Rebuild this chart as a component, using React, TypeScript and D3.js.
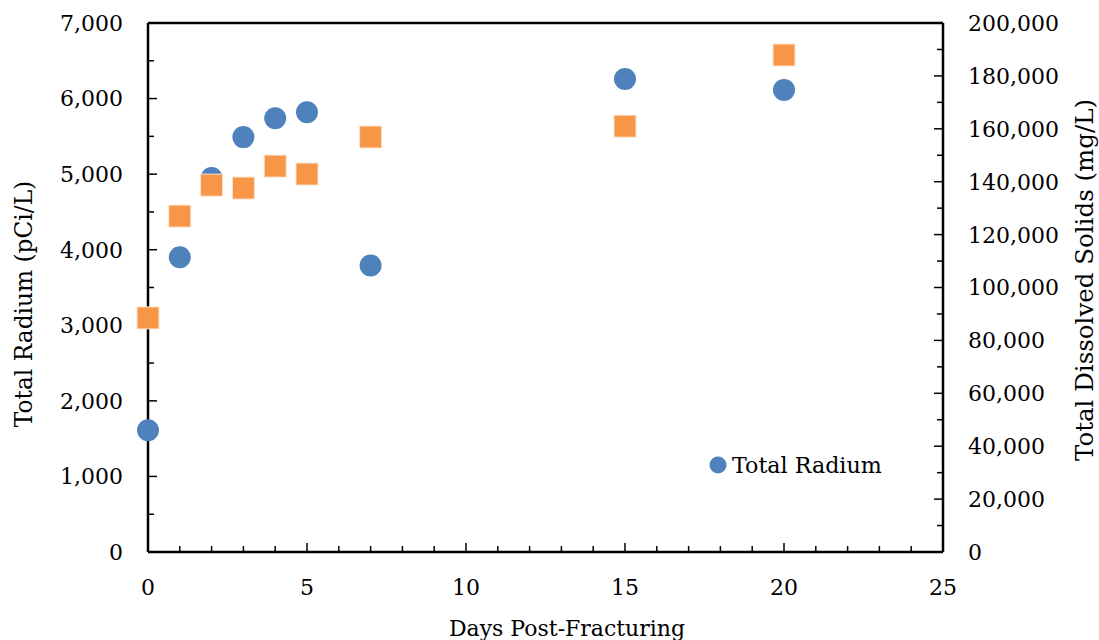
import React from "react";
import * as d3 from "d3";

const days = [0, 1, 2, 3, 4, 5, 7, 15, 20];
const radium = [1610, 3900, 4950, 5490, 5740, 5820, 3790, 6260, 6115];
const tds = [88500, 127000, 138700, 137600, 145900, 142900, 156900, 161000, 187900];
const xTicks = [0, 5, 10, 15, 20, 25];
const leftTicks = [0, 1000, 2000, 3000, 4000, 5000, 6000, 7000];
const rightTicks = [0, 20000, 40000, 60000, 80000, 100000, 120000, 140000, 160000, 180000, 200000];

const W = 1099, H = 640;
const M = { left: 148, right: 943, top: 23, bottom: 552 };
const FONT = "'DejaVu Serif', serif";

export default function App() {
  const x = d3.scaleLinear().domain([0, 25]).range([M.left, M.right]);
  const yL = d3.scaleLinear().domain([0, 7000]).range([M.bottom, M.top]);
  const yR = d3.scaleLinear().domain([0, 200000]).range([M.bottom, M.top]);
  const fmt = d3.format(",");
  const xMinor = d3.range(0, 26, 1);
  const lMinor = d3.range(0, 7001, 500);
  const rMinor = d3.range(0, 200001, 10000);
  const sq = 22;
  return (
    <svg width={W} height={H} style={{ position: "absolute", left: 0, top: 0 }} fontFamily={FONT}>
      <rect width={W} height={H} fill="#fff" />
      <g stroke="#000" strokeWidth={2.5} fill="none">
        <line x1={M.left} x2={M.left} y1={M.top} y2={M.bottom} />
        <line x1={M.right} x2={M.right} y1={M.top} y2={M.bottom} />
        <line x1={M.left} x2={M.right} y1={M.top} y2={M.top} />
        <line x1={M.left} x2={M.right} y1={M.bottom} y2={M.bottom} />
      </g>
      <g stroke="#000" strokeWidth={1.5}>
        {xMinor.map((d) => (
          <line key={"xm" + d} x1={x(d)} x2={x(d)} y1={M.bottom} y2={M.bottom - (d % 5 === 0 ? 9 : 6)} />
        ))}
        {lMinor.map((d) => (
          <line key={"lm" + d} x1={M.left} x2={M.left + (d % 1000 === 0 ? 9 : 6)} y1={yL(d)} y2={yL(d)} />
        ))}
        {rMinor.map((d) => (
          <line key={"rm" + d} x1={M.right} x2={M.right - (d % 20000 === 0 ? 9 : 6)} y1={yR(d)} y2={yR(d)} />
        ))}
      </g>
      <g fontSize={22} fill="#000">
        {xTicks.map((d) => (
          <text key={"xt" + d} x={x(d)} y={595} textAnchor="middle">{d}</text>
        ))}
        {leftTicks.map((d) => (
          <text key={"lt" + d} x={123} y={yL(d)} dy="0.36em" textAnchor="end">{fmt(d)}</text>
        ))}
        {rightTicks.map((d) => (
          <text key={"rt" + d} x={968} y={yR(d)} dy="0.36em" textAnchor="start">{fmt(d)}</text>
        ))}
      </g>
      <g fill="#000">
        <text x={567} y={636} fontSize={22} textAnchor="middle">Days Post-Fracturing</text>
        <text transform={`translate(32,304) rotate(-90)`} fontSize={23.3} textAnchor="middle">Total Radium (pCi/L)</text>
        <text transform={`translate(1093,280) rotate(-90)`} fontSize={24.5} textAnchor="middle">Total Dissolved Solids (mg/L)</text>
      </g>
      <g>
        {days.map((d, i) => (
          <circle key={"c" + i} cx={x(d)} cy={yL(radium[i])} r={11} fill="#4F81BD" />
        ))}
      </g>
      <g>
        {days.map((d, i) => (
          <rect key={"s" + i} x={x(d) - sq / 2} y={yR(tds[i]) - sq / 2} width={sq} height={sq} fill="#F79646" stroke="#FCE4D0" strokeWidth={1} />
        ))}
      </g>
      <circle cx={718} cy={465} r={8.5} fill="#4F81BD" />
      <text x={732} y={473} fontSize={22.2} fontFamily={FONT} fill="#000">Total Radium</text>
    </svg>
  );
}
